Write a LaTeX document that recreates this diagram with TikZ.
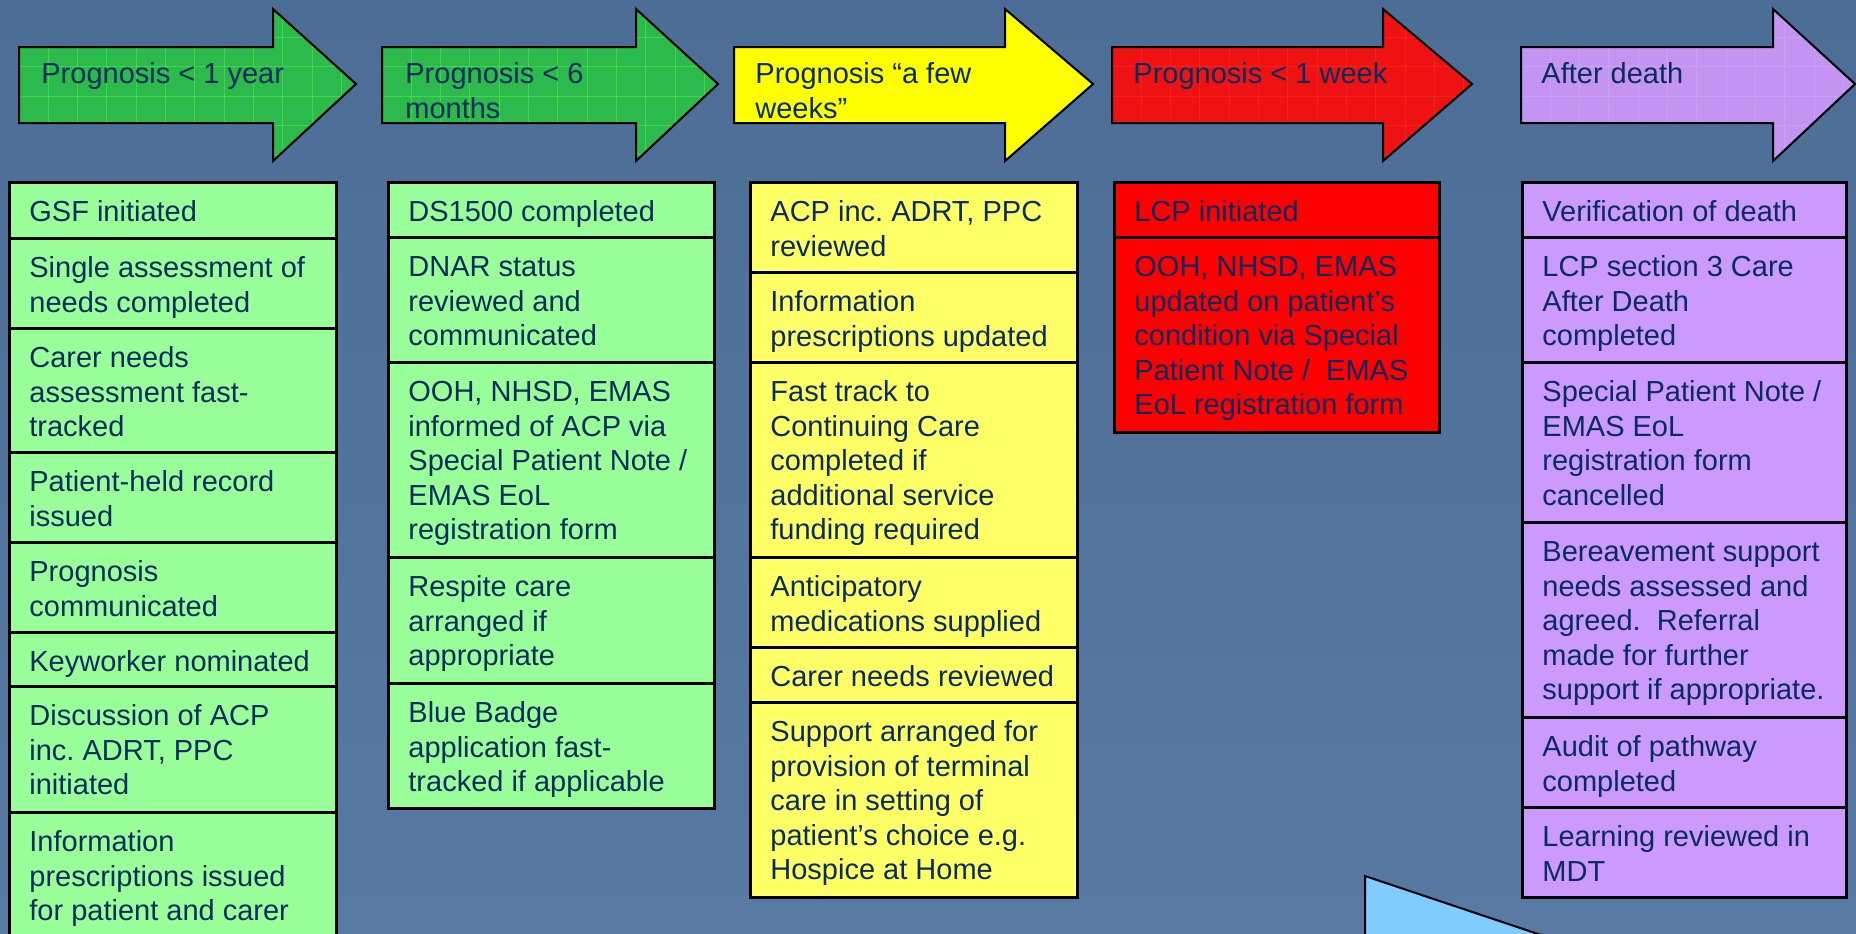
\documentclass[tikz,border=0pt]{standalone}
\usepackage{fontspec}
\setmainfont{Liberation Sans}
\frenchspacing
\definecolor{bgtop}{RGB}{76,109,150}
\definecolor{bgbot}{RGB}{88,122,162}
\definecolor{navy}{RGB}{8,44,96}
\definecolor{arrgreen}{RGB}{44,186,76}
\definecolor{gridgreen}{RGB}{70,240,70}
\definecolor{boxgreen}{RGB}{153,255,153}
\definecolor{arryellow}{RGB}{255,255,0}
\definecolor{boxyellow}{RGB}{255,255,102}
\definecolor{arrred}{RGB}{238,18,18}
\definecolor{gridred}{RGB}{250,60,60}
\definecolor{boxred}{RGB}{255,0,0}
\definecolor{arrpurple}{RGB}{196,148,242}
\definecolor{gridpurple}{RGB}{214,172,252}
\definecolor{boxpurple}{RGB}{204,153,255}
\definecolor{lightblue}{RGB}{128,204,255}
\tikzset{
  cellbox/.style={draw=black, line width=1.4pt, inner sep=0pt, anchor=north west,
    text=navy, font=\fontsize{14.5}{17.3}\selectfont},
  boxg/.style={fill=boxgreen},
  boxy/.style={fill=boxyellow},
  boxr/.style={fill=boxred},
  boxp/.style={fill=boxpurple},
  arrlabel/.style={anchor=north west, inner sep=0pt, text=navy,
    font=\fontsize{14.5}{17.3}\selectfont},
  arrline/.style={draw=black, line width=1pt, line join=miter},
}
% #1 style, #2 name, #3 x, #4 y (px), #5 width, #6 height, #7 text
\newcommand{\mkcell}[7]{%
  \node[cellbox,#1,minimum width=#5,minimum height=#6] (#2) at (#3,#4)
    {\hspace*{10pt}\parbox[t][#6][t]{\dimexpr#5-10pt\relax}{\raggedright\rule{0pt}{19.5pt}#7}};}
% #1 left, #2 head x, #3 tip x, #4 fill, #5 grid style
\newcommand{\progarrow}[5]{%
  \begin{scope}
    \clip (#1,47) -- (#2,47) -- (#2,9) -- (#3,84) -- (#2,161) -- (#2,123) -- (#1,123) -- cycle;
    \fill[#4] (#1,0) rectangle (#3,170);
    \foreach \k in {1,...,12} {\draw[#5, line width=0.45pt] ({#1+29.3*\k},0) -- ({#1+29.3*\k},170);}
    \foreach \k in {0,...,5} {\draw[#5, line width=0.45pt] (#1,{8.1+29.3*\k}) -- (#3,{8.1+29.3*\k});}
  \end{scope}
  \draw[arrline] (#1,47) -- (#2,47) -- (#2,9) -- (#3,84) -- (#2,161) -- (#2,123) -- (#1,123) -- cycle;}
\begin{document}
\begin{tikzpicture}[x=0.5pt,y=-0.5pt]
\useasboundingbox (0,0) rectangle (1856,933);
\clip (0,0) rectangle (1856,933);
\shade[top color=bgtop, bottom color=bgbot] (0,0) rectangle (1856,933);

% arrows
\progarrow{19}{273}{356}{arrgreen}{gridgreen,opacity=0.6}
\progarrow{382}{636}{718}{arrgreen}{gridgreen,opacity=0.6}
\progarrow{734}{1005}{1093}{arryellow}{draw=none}
\progarrow{1112}{1383}{1472}{arrred}{gridred,opacity=0.35}
\progarrow{1521}{1773}{1855}{arrpurple}{gridpurple,opacity=0.5}

\node[arrlabel] (lab1) at (41,47) {\parbox[t]{220pt}{\raggedright\rule{0pt}{18pt}Prognosis < 1 year}};
\node[arrlabel] (lab2) at (405,47) {\parbox[t]{220pt}{\raggedright\rule{0pt}{18pt}Prognosis < 6\\months}};
\node[arrlabel] (lab3) at (755,47) {\parbox[t]{220pt}{\raggedright\rule{0pt}{18pt}Prognosis “a few\\weeks”}};
\node[arrlabel] (lab4) at (1133,47) {\parbox[t]{220pt}{\raggedright\rule{0pt}{18pt}Prognosis < 1 week}};
\node[arrlabel] (lab5) at (1541,47) {\parbox[t]{220pt}{\raggedright\rule{0pt}{18pt}After death}};

% column 1
\mkcell{boxg}{g1}{8}{181}{163.5pt}{28pt}{GSF initiated}
\mkcell{boxg}{g2}{8}{237}{163.5pt}{45pt}{Single assessment of\\needs completed}
\mkcell{boxg}{g3}{8}{327}{163.5pt}{62pt}{Carer needs\\assessment fast-\\tracked}
\mkcell{boxg}{g4}{8}{451}{163.5pt}{45pt}{Patient-held record\\issued}
\mkcell{boxg}{g5}{8}{541}{163.5pt}{45pt}{Prognosis\\communicated}
\mkcell{boxg}{g6}{8}{631}{163.5pt}{27pt}{Keyworker nominated}
\mkcell{boxg}{g7}{8}{685}{163.5pt}{63pt}{Discussion of ACP\\inc. ADRT, PPC\\initiated}
\mkcell{boxg}{g8}{8}{811}{163.5pt}{66pt}{Information\\prescriptions issued\\for patient and carer}

% column 2
\mkcell{boxg}{m1}{387}{181}{163pt}{27.5pt}{DS1500 completed}
\mkcell{boxg}{m2}{387}{236}{163pt}{62.5pt}{DNAR status\\reviewed and\\communicated}
\mkcell{boxg}{m3}{387}{361}{163pt}{97.5pt}{OOH, NHSD, EMAS\\informed of ACP via\\Special Patient Note /\\EMAS EoL\\registration form}
\mkcell{boxg}{m4}{387}{556}{163pt}{63pt}{Respite care\\arranged if\\appropriate}
\mkcell{boxg}{m5}{387}{682}{163pt}{62.5pt}{Blue Badge\\application fast-\\tracked if applicable}

% column 3
\mkcell{boxy}{y1}{749}{181}{163.5pt}{45pt}{ACP inc. ADRT, PPC\\reviewed}
\mkcell{boxy}{y2}{749}{271}{163.5pt}{45pt}{Information\\prescriptions updated}
\mkcell{boxy}{y3}{749}{361}{163.5pt}{97.5pt}{Fast track to\\Continuing Care\\completed if\\additional service\\funding required}
\mkcell{boxy}{y4}{749}{556}{163.5pt}{45pt}{Anticipatory\\medications supplied}
\mkcell{boxy}{y5}{749}{646}{163.5pt}{27.5pt}{Carer needs reviewed}
\mkcell{boxy}{y6}{749}{701}{163.5pt}{97.5pt}{Support arranged for\\provision of terminal\\care in setting of\\patient’s choice e.g.\\Hospice at Home}

% column 4
\mkcell{boxr}{r1}{1113}{181}{162.5pt}{27.5pt}{LCP initiated}
\mkcell{boxr}{r2}{1113}{236}{162.5pt}{97.5pt}{OOH, NHSD, EMAS\\updated on patient’s\\condition via Special\\Patient Note /\ \ EMAS\\EoL registration form}

% column 5
\mkcell{boxp}{p1}{1521}{181}{162pt}{27.5pt}{Verification of death}
\mkcell{boxp}{p2}{1521}{236}{162pt}{62.5pt}{LCP section 3 Care\\After Death\\completed}
\mkcell{boxp}{p3}{1521}{361}{162pt}{80pt}{Special Patient Note /\\EMAS EoL\\registration form\\cancelled}
\mkcell{boxp}{p4}{1521}{521}{162pt}{97.5pt}{Bereavement support\\needs assessed and\\agreed.\ \ Referral\\made for further\\support if appropriate.}
\mkcell{boxp}{p5}{1521}{716}{162pt}{45pt}{Audit of pathway\\completed}
\mkcell{boxp}{p6}{1521}{806}{162pt}{45pt}{Learning reviewed in\\MDT}

% light blue shape at bottom
\fill[lightblue] (1365,876) -- (1550,938) -- (1365,938) -- cycle;
\draw[line width=1pt] (1365,940) -- (1365,876) -- (1550,938);
\end{tikzpicture}
\end{document}
